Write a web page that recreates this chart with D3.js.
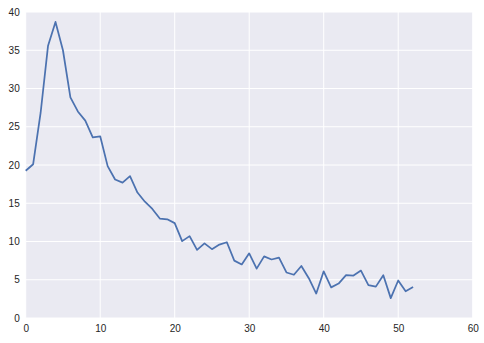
<!DOCTYPE html>
<html>
<head>
<meta charset="utf-8">
<script src="https://cdn.jsdelivr.net/npm/d3@7"></script>
<style>
  body { margin: 0; background: #fff; }
  .tick text { font-family: "Liberation Sans", Arial, sans-serif; font-size: 10px; fill: #262626; }
</style>
</head>
<body>
<div class="chart"></div>
<script>
var svgWidth = 484;
var svgHeight = 343;

var margin = { top: 12, right: 11.3, bottom: 25, left: 25.7 };

var width = svgWidth - margin.left - margin.right;
var height = svgHeight - margin.top - margin.bottom;

// weekly values, x = 0..52
var xValues = d3.range(0, 53);
var yValues = [
  19.25, 20.1, 26.8, 35.6, 38.7, 35.0, 28.85, 27.0, 25.8, 23.6,
  23.75, 19.85, 18.1, 17.7, 18.55, 16.4, 15.2, 14.25, 13.0, 12.9,
  12.4, 10.05, 10.7, 8.9, 9.75, 9.0, 9.6, 9.9, 7.5, 7.0,
  8.45, 6.45, 8.05, 7.65, 7.9, 5.95, 5.65, 6.8, 5.2, 3.2,
  6.1, 4.0, 4.5, 5.6, 5.55, 6.2, 4.3, 4.1, 5.6, 2.6,
  4.9, 3.5, 4.05
];
var xTicks = [0, 10, 20, 30, 40, 50, 60];
var yTicks = [0, 5, 10, 15, 20, 25, 30, 35, 40];

var svg = d3.select(".chart")
  .append("svg")
  .attr("width", svgWidth)
  .attr("height", svgHeight);

var chartGroup = svg.append("g")
  .attr("transform", `translate(${margin.left}, ${margin.top})`);

var xScale = d3.scaleLinear().domain([0, 60]).range([0, width]);
var yScale = d3.scaleLinear().domain([0, 40]).range([height, 0]);

chartGroup.append("rect")
  .attr("width", width)
  .attr("height", height)
  .attr("fill", "#EAEAF2");

// grid lines
chartGroup.selectAll(".vgrid")
  .data(xTicks)
  .enter()
  .append("line")
  .attr("x1", d => xScale(d)).attr("x2", d => xScale(d))
  .attr("y1", 0).attr("y2", height)
  .attr("stroke", "#fff").attr("stroke-width", 1);

chartGroup.selectAll(".hgrid")
  .data(yTicks)
  .enter()
  .append("line")
  .attr("x1", 0).attr("x2", width)
  .attr("y1", d => yScale(d)).attr("y2", d => yScale(d))
  .attr("stroke", "#fff").attr("stroke-width", 1);

var bottomAxis = d3.axisBottom(xScale).tickValues(xTicks).tickSize(0).tickPadding(7);
var leftAxis = d3.axisLeft(yScale).tickValues(yTicks).tickSize(0).tickPadding(6);

chartGroup.append("g")
  .attr("transform", `translate(0, ${height})`)
  .call(bottomAxis)
  .call(g => g.select(".domain").remove());

chartGroup.append("g")
  .call(leftAxis)
  .call(g => g.select(".domain").remove());

var line = d3.line()
  .x((d, i) => xScale(xValues[i]))
  .y(d => yScale(d));

chartGroup.append("path")
  .datum(yValues)
  .attr("d", line)
  .attr("fill", "none")
  .attr("stroke", "#4C72B0")
  .attr("stroke-width", 1.75)
  .attr("stroke-linejoin", "round");
</script>
</body>
</html>
